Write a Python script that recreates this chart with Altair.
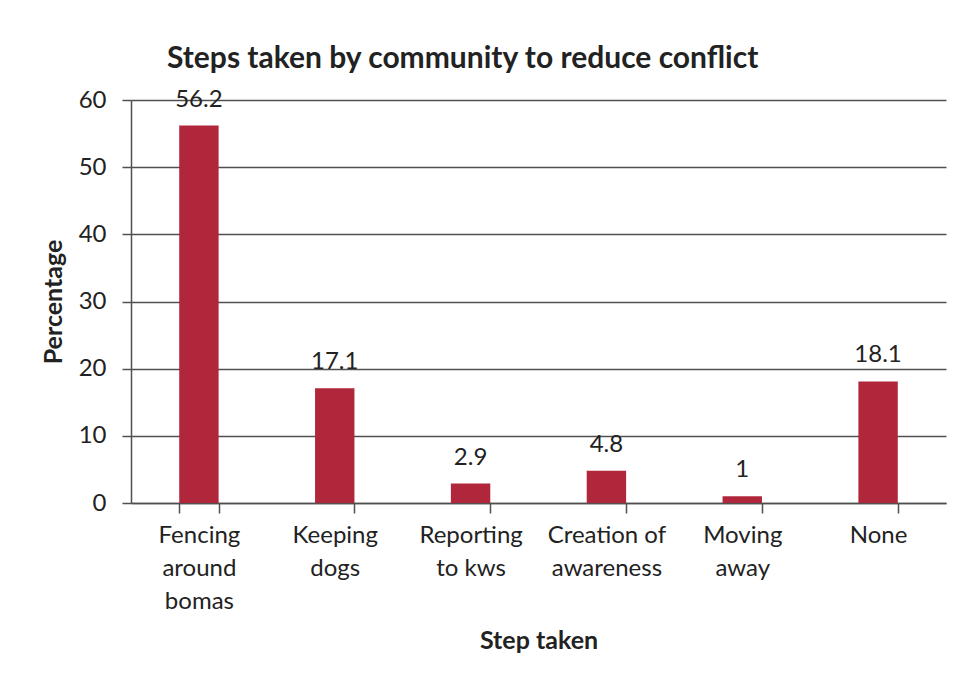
import altair as alt
import pandas as pd
import json

categories = ["Fencing around bomas", "Keeping dogs", "Reporting to kws",
              "Creation of awareness", "Moving away", "None"]
label_lines = [["Fencing", "around", "bomas"], ["Keeping", "dogs"], ["Reporting", "to kws"],
               ["Creation of", "awareness"], ["Moving", "away"], ["None"]]
values = [56.2, 17.1, 2.9, 4.8, 1, 18.1]
value_text = ["56.2", "17.1", "2.9", "4.8", "1", "18.1"]
y_ticks = [0, 10, 20, 30, 40, 50, 60]

df = pd.DataFrame({"step": categories, "pct": values, "txt": value_text})

expr = "''"
for cat, lines in reversed(list(zip(categories, label_lines))):
    expr = f"datum.value == {json.dumps(cat)} ? {json.dumps(lines)} : ({expr})"

FONT = "Lato"
TXT = "#222222"
AXC = "#505050"

x_enc = alt.X("step:N", sort=categories, scale=alt.Scale(paddingInner=0.71, paddingOuter=0.355),
              axis=alt.Axis(title="Step taken", labelAngle=0, labelExpr=expr,
                            labelFontSize=24, labelLineHeight=33, labelColor=TXT,
                            labelFont=FONT, labelPadding=10, labelBaseline="top",
                            tickBand="extent", tickSize=10, tickColor=AXC, tickWidth=1.5,
                            domainColor=AXC, domainWidth=1.5, grid=False,
                            titleFont=FONT, titleFontSize=25, titleFontWeight="bold",
                            titleColor=TXT, titlePadding=15))

bars = alt.Chart(df).mark_bar(color="#B0263A").encode(
    x=x_enc,
    y=alt.Y("pct:Q", scale=alt.Scale(domain=[0, 60], nice=False),
            axis=alt.Axis(title="Percentage", values=y_ticks, labelFontSize=24,
                          labelColor=TXT, labelFont=FONT, labelPadding=16,
                          tickSize=9, tickColor=AXC, tickWidth=1.5,
                          domainColor=AXC, domainWidth=1.5,
                          grid=True, gridColor=AXC, gridWidth=1.5,
                          titleFont=FONT, titleFontSize=25, titleFontWeight="bold",
                          titleColor=TXT, titlePadding=12)),
)

labels = alt.Chart(df).mark_text(baseline="alphabetic", dy=-19, fontSize=24,
                                 font=FONT, color=TXT).encode(
    x=alt.X("step:N", sort=categories),
    y=alt.Y("pct:Q"),
    text="txt:N",
)

chart = (bars + labels).properties(
    width=815, height=403,
    background="white",
    title=alt.TitleParams("Steps taken by community to reduce conflict", anchor="start",
                          frame="group", dx=36, offset=14, font=FONT, fontSize=30,
                          fontWeight="bold", color=TXT),
    autosize=alt.AutoSizeParams(type="none"),
    padding={"left": 123, "top": 92, "right": 6, "bottom": 170},
).configure_view(stroke=None, strokeWidth=0)

chart.save("out.html", embed_options={"renderer": "svg", "actions": False})
